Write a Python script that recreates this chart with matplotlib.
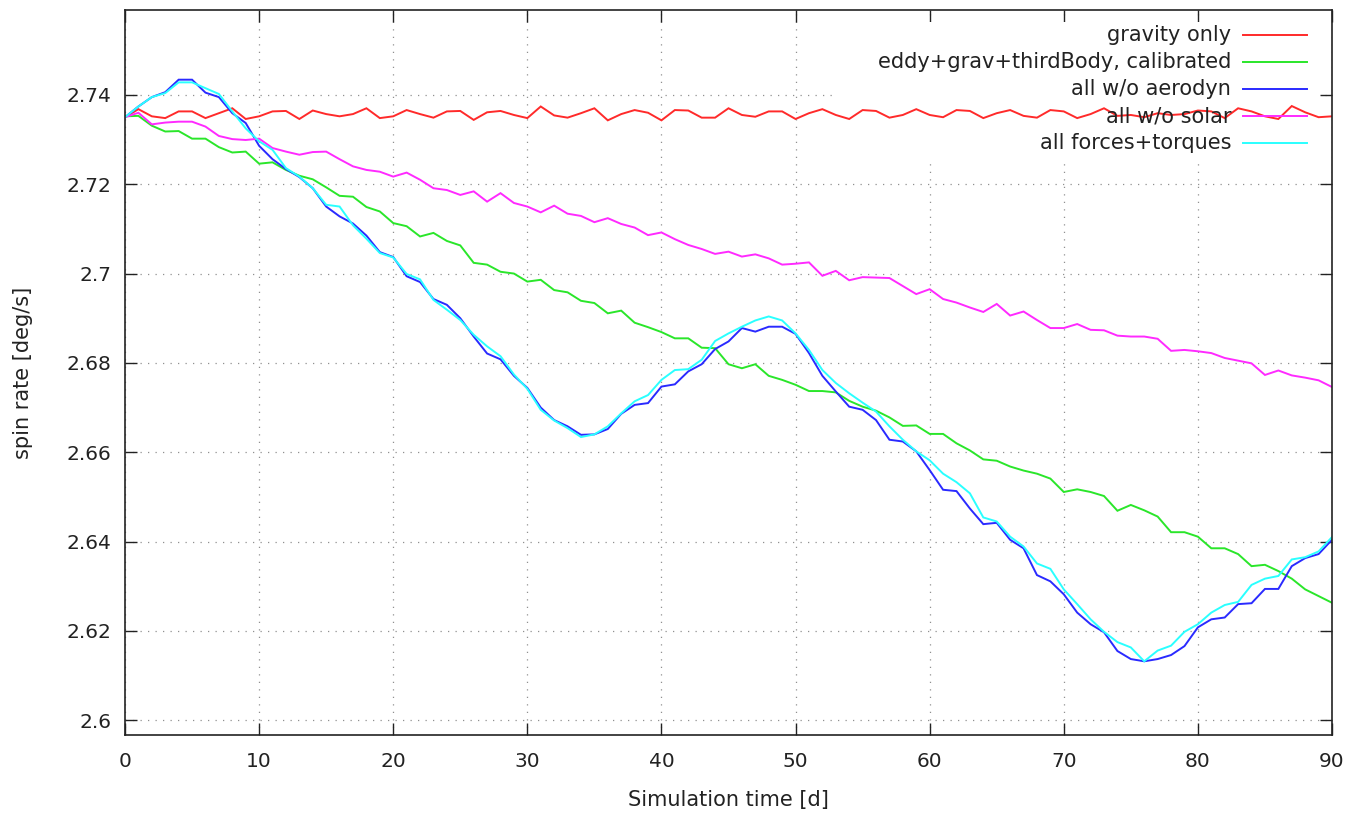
import matplotlib
matplotlib.use('Agg')
import matplotlib.pyplot as plt
from matplotlib.patches import Rectangle
from matplotlib.ticker import FuncFormatter

#   simulation days, one sample per day
days = list(range(91))

gravity_only = [
    2.7350, 2.7368, 2.7352, 2.7348, 2.7363, 2.7363, 2.7348, 2.7359, 2.7370, 2.7346,
    2.7352, 2.7363, 2.7364, 2.7346, 2.7365, 2.7357, 2.7352, 2.7357, 2.7370, 2.7348,
    2.7352, 2.7366, 2.7357, 2.7349, 2.7363, 2.7364, 2.7344, 2.7361, 2.7364, 2.7355,
    2.7348, 2.7374, 2.7354, 2.7349, 2.7359, 2.7370, 2.7343, 2.7357, 2.7366, 2.7360,
    2.7343, 2.7366, 2.7365, 2.7349, 2.7349, 2.7370, 2.7355, 2.7351, 2.7363, 2.7363,
    2.7346, 2.7359, 2.7368, 2.7355, 2.7346, 2.7366, 2.7364, 2.7349, 2.7355, 2.7368,
    2.7355, 2.7350, 2.7366, 2.7364, 2.7348, 2.7359, 2.7366, 2.7353, 2.7349, 2.7366,
    2.7363, 2.7348, 2.7357, 2.7370, 2.7353, 2.7355, 2.7350, 2.7359, 2.7355, 2.7357,
    2.7365, 2.7363, 2.7348, 2.7370, 2.7363, 2.7352, 2.7346, 2.7375, 2.7361, 2.7350,
    2.7352]

eddy_calibrated = [
    2.7352, 2.7353, 2.7331, 2.7318, 2.7319, 2.7302, 2.7302, 2.7283, 2.7271, 2.7273,
    2.7246, 2.7249, 2.7232, 2.7219, 2.7211, 2.7193, 2.7174, 2.7172, 2.7149, 2.7139,
    2.7113, 2.7106, 2.7083, 2.7091, 2.7073, 2.7063, 2.7024, 2.7020, 2.7004, 2.7000,
    2.6982, 2.6986, 2.6963, 2.6958, 2.6939, 2.6934, 2.6911, 2.6917, 2.6890, 2.6880,
    2.6869, 2.6855, 2.6855, 2.6834, 2.6833, 2.6797, 2.6788, 2.6797, 2.6771, 2.6762,
    2.6751, 2.6737, 2.6737, 2.6734, 2.6715, 2.6702, 2.6693, 2.6678, 2.6659, 2.6660,
    2.6641, 2.6641, 2.6620, 2.6604, 2.6584, 2.6581, 2.6568, 2.6559, 2.6552, 2.6541,
    2.6511, 2.6517, 2.6511, 2.6502, 2.6469, 2.6482, 2.6470, 2.6456, 2.6421, 2.6421,
    2.6411, 2.6385, 2.6385, 2.6372, 2.6345, 2.6348, 2.6334, 2.6317, 2.6293, 2.6278,
    2.6263]

no_aerodyn = [
    2.7350, 2.7374, 2.7395, 2.7406, 2.7434, 2.7434, 2.7405, 2.7395, 2.7359, 2.7337,
    2.7286, 2.7256, 2.7234, 2.7216, 2.7191, 2.7150, 2.7128, 2.7112, 2.7085, 2.7048,
    2.7037, 2.6994, 2.6981, 2.6943, 2.6930, 2.6900, 2.6859, 2.6821, 2.6808, 2.6771,
    2.6744, 2.6700, 2.6672, 2.6658, 2.6639, 2.6640, 2.6652, 2.6686, 2.6706, 2.6710,
    2.6747, 2.6752, 2.6781, 2.6797, 2.6831, 2.6848, 2.6878, 2.6870, 2.6881, 2.6881,
    2.6865, 2.6822, 2.6771, 2.6736, 2.6702, 2.6695, 2.6672, 2.6628, 2.6624, 2.6602,
    2.6560, 2.6516, 2.6513, 2.6474, 2.6439, 2.6442, 2.6404, 2.6385, 2.6325, 2.6311,
    2.6282, 2.6241, 2.6215, 2.6197, 2.6155, 2.6137, 2.6132, 2.6137, 2.6146, 2.6166,
    2.6208, 2.6226, 2.6230, 2.6260, 2.6262, 2.6294, 2.6294, 2.6345, 2.6363, 2.6372,
    2.6404]

no_solar = [
    2.7350, 2.7360, 2.7334, 2.7338, 2.7340, 2.7340, 2.7329, 2.7308, 2.7301, 2.7299,
    2.7302, 2.7281, 2.7273, 2.7266, 2.7272, 2.7273, 2.7256, 2.7240, 2.7232, 2.7228,
    2.7217, 2.7226, 2.7210, 2.7191, 2.7187, 2.7176, 2.7184, 2.7161, 2.7180, 2.7158,
    2.7150, 2.7137, 2.7152, 2.7134, 2.7129, 2.7115, 2.7124, 2.7111, 2.7103, 2.7086,
    2.7092, 2.7077, 2.7064, 2.7055, 2.7044, 2.7049, 2.7038, 2.7043, 2.7034, 2.7020,
    2.7022, 2.7025, 2.6995, 2.7006, 2.6985, 2.6992, 2.6991, 2.6990, 2.6972, 2.6954,
    2.6965, 2.6943, 2.6935, 2.6924, 2.6914, 2.6932, 2.6906, 2.6915, 2.6896, 2.6878,
    2.6878, 2.6887, 2.6874, 2.6873, 2.6861, 2.6859, 2.6859, 2.6854, 2.6827, 2.6829,
    2.6826, 2.6822, 2.6811, 2.6805, 2.6799, 2.6773, 2.6783, 2.6772, 2.6767, 2.6761,
    2.6746]

all_forces = [
    2.7350, 2.7374, 2.7395, 2.7404, 2.7428, 2.7428, 2.7415, 2.7402, 2.7363, 2.7325,
    2.7296, 2.7277, 2.7236, 2.7217, 2.7191, 2.7154, 2.7150, 2.7108, 2.7078, 2.7046,
    2.7036, 2.6999, 2.6987, 2.6941, 2.6919, 2.6896, 2.6863, 2.6837, 2.6815, 2.6774,
    2.6742, 2.6695, 2.6671, 2.6654, 2.6634, 2.6640, 2.6658, 2.6687, 2.6714, 2.6728,
    2.6762, 2.6784, 2.6786, 2.6807, 2.6849, 2.6866, 2.6881, 2.6895, 2.6904, 2.6895,
    2.6866, 2.6829, 2.6784, 2.6755, 2.6732, 2.6711, 2.6691, 2.6658, 2.6628, 2.6602,
    2.6582, 2.6552, 2.6533, 2.6508, 2.6454, 2.6445, 2.6411, 2.6389, 2.6351, 2.6339,
    2.6293, 2.6260, 2.6226, 2.6198, 2.6175, 2.6163, 2.6132, 2.6156, 2.6167, 2.6198,
    2.6215, 2.6241, 2.6258, 2.6265, 2.6303, 2.6317, 2.6323, 2.6360, 2.6365, 2.6378,
    2.6410]

labels = ['gravity only', 'eddy+grav+thirdBody, calibrated', 'all w/o aerodyn',
          'all w/o solar', 'all forces+torques']
series = [gravity_only, eddy_calibrated, no_aerodyn, no_solar, all_forces]
colors = ['#ff2a2a', '#2ae62a', '#2a2aff', '#ff2aff', '#2affff']

x_ticks = list(range(0, 91, 10))
y_ticks = [2.6, 2.62, 2.64, 2.66, 2.68, 2.70, 2.72, 2.74]

plt.rcParams['font.family'] = 'DejaVu Sans'

fig = plt.figure(figsize=(13.52, 8.15), dpi=100)
ax = fig.add_axes([125/1352, 80/815, 1207/1352, 725/815])

for ys, c in zip(series, colors):
    ax.plot(days, ys, color=c, lw=1.4, solid_joinstyle='miter')

ax.set_xlim(0, 90)
ax.set_ylim(2.5967, 2.759)
ax.set_xticks(x_ticks)
ax.set_yticks(y_ticks)
ax.yaxis.set_major_formatter(FuncFormatter(lambda v, p: f'{round(v, 2):g}'))

ax.set_axisbelow(True)
ax.grid(True, color='#909090', lw=0.9, linestyle=(0, (1, 5)))
ax.tick_params(direction='in', length=8.6, width=1.0, top=True, right=True,
               colors='#222222', labelsize=14.5)
ax.tick_params(axis='x', pad=12)
ax.tick_params(axis='y', pad=10)
for s in ax.spines.values():
    s.set_linewidth(1.2)
    s.set_color('#222222')

#   key area: grid is not drawn behind it
ax.add_patch(Rectangle((0.5866, 0.7931), 0.4034, 0.1903, transform=ax.transAxes,
                       facecolor='white', edgecolor='none', zorder=1))

#   key, gnuplot style: right aligned text then sample line
key_y = [35, 62, 89, 116, 143]
for lab, c, py in zip(labels, colors, key_y):
    ya = (735 - py) / 725
    ax.text((1231 - 125) / 1207, ya, lab, transform=ax.transAxes, ha='right',
            va='center', fontsize=15, color='#222222', zorder=3)
    ax.plot([(1243 - 125) / 1207, (1307 - 125) / 1207], [ya, ya], transform=ax.transAxes,
            color=c, lw=1.4, clip_on=False, zorder=3)

ax.set_xlabel('Simulation time [d]', fontsize=15, color='#222222', labelpad=14)
ax.set_ylabel('spin rate [deg/s]', fontsize=15, color='#222222', labelpad=24)

fig.savefig('out.png', dpi=100)
